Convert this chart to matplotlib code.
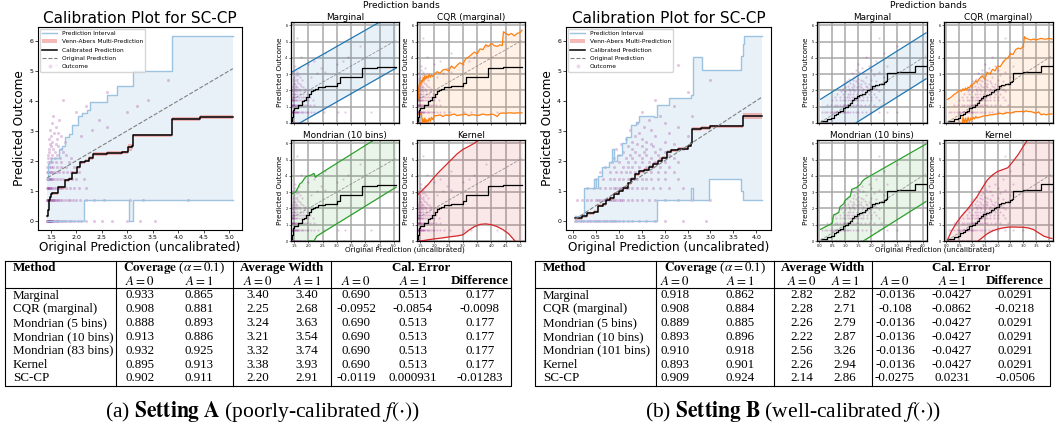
"""Calibration plots, prediction bands and summary tables for settings A and B."""

import numpy as np
import matplotlib.pyplot as plt
from matplotlib.lines import Line2D
from matplotlib.patches import Patch

W, H = 1055, 433
plt.rcParams["mathtext.fontset"] = "stix"
SERIF = "Liberation Serif"

# ---------------------------------------------------------------- setting A
# prediction interval (step, post)
pi_a_x = [1.43, 1.45, 1.47, 1.50, 1.56, 1.66, 1.72, 1.78, 1.85, 1.92, 2.03, 2.11,
          2.15, 2.21, 2.27, 2.40, 2.60, 2.79, 3.03, 3.12, 3.88, 5.07]
pi_a_hi = [1.4, 1.9, 2.0, 2.1, 2.1, 2.4, 2.5, 2.8, 2.9, 3.2, 3.5, 3.6,
           3.6, 3.7, 3.95, 3.95, 4.2, 4.5, 4.5, 5.0, 6.15, 6.15]
pi_a_lo = [0, 0, 0, 0, 0, 0, 0, 0, 0, 0, 0, 0,
           0.69, 0.69, 0.69, 0.69, 0.69, 0.69, 0, 0.69, 0.69, 0.69]
# calibrated prediction + Venn-Abers half width
cal_a_x = [1.43, 1.44, 1.46, 1.48, 1.50, 1.53, 1.65, 1.78, 1.86, 1.92, 2.02, 2.08,
           2.17, 2.25, 2.33, 2.60, 2.90, 3.02, 3.10, 3.12, 3.88, 4.42, 5.07]
cal_a = [0.15, 0.35, 0.7, 0.78, 0.9, 0.92, 1.12, 1.35, 1.4, 1.6, 1.78, 1.95,
         2.0, 2.1, 2.22, 2.25, 2.28, 2.45, 2.5, 2.85, 3.4, 3.45, 3.45]
va_a_half = [0.05, 0.05, 0.05, 0.05, 0.05, 0.05, 0.05, 0.05, 0.05, 0.05, 0.05, 0.05,
             0.05, 0.06, 0.07, 0.06, 0.05, 0.12, 0.1, 0.05, 0.06, 0.07, 0.07]
orig_a = [1.43, 5.07]

# outcomes: y level and x positions of points on it
out_levels = [0.0, 0.69, 1.10, 1.39, 1.61, 1.79, 1.95, 2.08, 2.20, 2.30, 2.40, 2.48,
              2.56, 2.64, 2.71, 2.83, 2.94, 3.04, 3.14, 3.26, 3.37, 3.50, 3.64, 3.81,
              4.04, 4.30, 4.70, 5.20]
out_a_x = [
    [1.42, 1.43, 1.44, 1.45, 1.46, 1.47, 1.48, 1.49, 1.5, 1.51, 1.53, 1.55, 1.57, 1.6,
     1.62, 1.65, 1.68, 1.72, 1.76, 1.8, 1.85, 1.9, 1.96, 2.03, 2.1, 2.2, 2.35, 2.5,
     2.7, 3.0, 3.25, 3.55],
    [1.42, 1.43, 1.44, 1.45, 1.46, 1.48, 1.5, 1.52, 1.54, 1.56, 1.59, 1.62, 1.65, 1.69,
     1.73, 1.78, 1.83, 1.88, 1.94, 2.0, 2.08, 2.2, 2.35, 2.55, 3.05, 3.3, 4.2],
    [1.42, 1.44, 1.45, 1.47, 1.49, 1.51, 1.53, 1.56, 1.6, 1.64, 1.68, 1.73, 1.8, 1.87,
     1.95, 2.05, 2.2],
    [1.42, 1.44, 1.46, 1.48, 1.5, 1.53, 1.57, 1.62, 1.68, 1.75, 1.83, 1.92, 2.0, 2.15],
    [1.43, 1.45, 1.48, 1.51, 1.55, 1.6, 1.66, 1.74, 1.82, 1.9, 2.05],
    [1.43, 1.46, 1.5, 1.55, 1.62, 1.7, 1.8, 1.95],
    [1.44, 1.48, 1.53, 1.6, 1.7, 1.85, 2.1],
    [1.45, 1.5, 1.58, 1.68, 1.9],
    [1.44, 1.52, 1.62, 1.8],
    [1.47, 1.58, 1.75],
    [1.46, 1.55, 1.7],
    [1.5, 1.65],
    [1.48, 1.6],
    [1.53, 1.78],
    [1.46, 1.62],
    [1.5, 1.7, 2.1],
    [1.56, 1.65],
    [1.48, 2.3],
    [1.6, 2.6],
    [1.52],
    [1.66, 2.45],
    [1.55],
    [2.0, 3.0],
    [2.2, 3.2],
    [1.75, 3.4],
    [2.6],
    [3.8],
    [1.6],
]

# bands for the small panels
marg_a_x = [1.43, 5.07]
marg_a_lo = [-0.27, 3.37]
marg_a_hi = [3.13, 6.77]

cqr_a_x = [1.43, 1.46, 1.49, 1.52, 1.55, 1.58, 1.61, 1.64, 1.67, 1.70,
           1.74, 1.78, 1.82, 1.86, 1.90, 1.95, 2.00, 2.10, 2.20, 2.30,
           2.40, 2.50, 2.60, 2.70, 2.80, 2.90, 3.00, 3.10, 3.20, 3.30,
           3.40, 3.50, 3.60, 3.70, 3.80, 3.90, 4.00, 4.10, 4.20, 4.30,
           4.38, 4.42, 4.50, 4.60, 4.70, 4.80, 4.90, 5.00, 5.07]
cqr_a_hi = [1.4, 2.2, 2.5, 2.3, 2.6, 2.5, 2.8, 2.6, 2.9, 2.7,
            2.9, 2.75, 3.0, 2.8, 2.95, 2.85, 3.0, 3.15, 3.05, 3.25,
            3.3, 3.2, 3.5, 3.35, 3.55, 3.7, 3.6, 3.95, 4.05, 4.2,
            4.35, 4.25, 4.55, 4.5, 4.8, 4.7, 4.9, 4.75, 4.7, 4.8,
            4.75, 5.6, 5.5, 5.4, 5.5, 5.35, 5.5, 5.55, 5.7]
cqr_a_lo = [0.5, 0.55, 0.6, 0.55, 0.6, 0.0, 0.25, 0.0, 0.3, 0.0,
            0.2, 0.05, 0.3, 0.1, 0.35, 0.2, 0.45, 0.45, 0.5, 0.4,
            0.5, 0.45, 0.5, 0.55, 0.45, 0.5, 0.5, 0.55, 0.45, 0.5,
            0.5, 0.45, 0.5, 0.55, 0.5, 0.5, 0.55, 0.5, 0.4, 0.6,
            0.6, 0.62, 0.6, 0.62, 0.62, 0.6, 0.62, 0.62, 0.62]

mond_a_x = [1.43, 1.55, 1.62, 1.70, 1.78, 1.85, 1.92, 2.00, 2.10, 2.20, 2.25, 2.30, 5.07]
mond_a_hi = [2.9, 3.0, 3.2, 3.5, 3.6, 3.8, 3.95, 4.0, 4.05, 4.15, 3.9, 4.0, 7.05]
mond_a_lo = [-0.57, -0.45, -0.38, -0.3, -0.22, -0.15, -0.08, 0.0, 0.0, 0.0, 0.15, 0.3, 3.3]

kern_a_x = [1.43, 1.6, 1.8, 2.0, 2.2, 2.4, 2.6, 2.8, 3.0, 3.2,
            3.4, 3.6, 3.8, 4.0, 4.2, 4.4, 4.6, 4.8, 5.0, 5.07]
kern_a_hi = [2.85, 3.15, 3.5, 3.93, 4.3, 4.65, 5.0, 5.35, 5.62, 5.8,
             6.0, 6.25, 6.6, 7.0, 7.4, 7.8, 8.2, 8.6, 9.0, 9.1]
kern_a_lo = [-0.05, 0.02, 0.08, 0.13, 0.17, 0.22, 0.27, 0.31, 0.38, 0.65,
             0.88, 1.02, 1.05, 1.0, 0.88, 0.7, 0.45, 0.05, -0.3, -0.4]

# ---------------------------------------------------------------- setting B
pi_b_x = [0.05, 0.25, 0.46, 0.50, 0.54, 0.64, 0.79, 0.86, 0.90, 0.97, 1.08, 1.15, 1.26,
          1.37, 1.44, 1.77, 1.83, 2.09, 2.57, 2.62, 2.82, 2.96, 3.62, 3.66, 3.70, 3.73, 4.12]
pi_b_hi = [0.15, 1.1, 1.4, 1.1, 1.5, 1.8, 1.95, 2.4, 2.0, 2.2, 2.6, 2.8, 3.2,
           3.3, 3.5, 3.45, 3.85, 4.1, 4.2, 5.45, 5.03, 5.03, 5.03, 5.5, 5.9, 6.15, 6.15]
pi_b_lo = [0, 0, 0, 0, 0, 0, 0, 0, 0, 0, 0, 0, 0,
           0, 0, 0, 0.69, 0.69, 1.1, 0.69, 0.69, 1.38, 1.38, 1.0, 0.69, 0.69, 0.69]

cal_b_x = [0.05, 0.2, 0.3, 0.45, 0.55, 0.65, 0.72, 0.8, 0.9, 1.0, 1.1, 1.2, 1.27, 1.35,
           1.45, 1.55, 1.65, 1.75, 1.85, 1.95, 2.05, 2.15, 2.3, 2.5, 2.57, 2.6, 2.8,
           3.0, 3.6, 3.7, 4.12]
cal_b = [0.1, 0.15, 0.25, 0.3, 0.5, 0.55, 0.7, 0.75, 0.9, 1.0, 1.1, 1.25, 1.4, 1.55,
         1.65, 1.7, 1.8, 1.9, 2.0, 2.1, 2.3, 2.35, 2.4, 2.5, 2.6, 3.05, 3.1,
         3.15, 3.15, 3.5, 3.5]
va_b_half = [0.06, 0.05, 0.05, 0.05, 0.05, 0.05, 0.05, 0.05, 0.05, 0.05, 0.05, 0.05, 0.05,
             0.05, 0.05, 0.05, 0.05, 0.05, 0.05, 0.05, 0.05, 0.05, 0.05, 0.05, 0.06, 0.07,
             0.06, 0.05, 0.05, 0.1, 0.1]
orig_b = [0.05, 4.12]

out_b_x = [
    [0.05, 0.1, 0.15, 0.2, 0.25, 0.3, 0.35, 0.4, 0.45, 0.5, 0.55, 0.6, 0.65, 0.7, 0.75,
     0.8, 0.85, 0.9, 0.95, 1.0, 1.1, 1.2, 1.3, 1.45, 1.6, 1.8, 2.0, 2.4, 2.9],
    [0.1, 0.2, 0.3, 0.4, 0.5, 0.55, 0.6, 0.65, 0.7, 0.75, 0.8, 0.85, 0.9, 0.95, 1.0,
     1.05, 1.1, 1.2, 1.3, 1.4, 1.5, 1.65, 1.8, 2.0, 2.3, 2.6, 3.0],
    [0.3, 0.45, 0.6, 0.7, 0.8, 0.9, 0.95, 1.0, 1.05, 1.1, 1.15, 1.2, 1.3, 1.4, 1.5,
     1.6, 1.75, 1.9, 2.1, 2.4],
    [0.5, 0.65, 0.8, 0.9, 1.0, 1.1, 1.2, 1.25, 1.3, 1.4, 1.5, 1.6, 1.7, 1.85, 2.0, 2.3],
    [0.6, 0.8, 0.95, 1.05, 1.15, 1.25, 1.35, 1.45, 1.55, 1.7, 1.85, 2.0, 2.2],
    [0.7, 0.9, 1.1, 1.2, 1.3, 1.45, 1.6, 1.75, 1.9, 2.1],
    [0.85, 1.0, 1.2, 1.35, 1.5, 1.65, 1.8, 2.0, 2.3],
    [0.9, 1.15, 1.3, 1.5, 1.7, 1.9, 2.2],
    [1.0, 1.25, 1.45, 1.6, 1.85, 2.1],
    [1.1, 1.35, 1.55, 1.8, 2.0],
    [0.95, 1.3, 1.6, 1.9, 2.4],
    [1.2, 1.5, 1.75],
    [1.05, 1.4, 1.7, 2.2],
    [1.3, 1.6, 2.0],
    [1.15, 1.5],
    [1.35, 1.8, 2.5],
    [1.45, 2.1],
    [1.25, 1.7],
    [1.55, 2.3],
    [1.4, 2.0],
    [1.65],
    [1.9, 2.6],
    [1.5],
    [2.2],
    [1.8],
    [2.5],
    [3.0],
    [2.3],
]

marg_b_x = [0.05, 4.12]
marg_b_lo = [-1.36, 2.71]
marg_b_hi = [1.46, 5.53]

cqr_b_x = [0.05, 0.1, 0.2, 0.3, 0.4, 0.5, 0.6, 0.65, 0.7, 0.75,
           0.8, 0.85, 0.9, 0.95, 1.0, 1.05, 1.1, 1.15, 1.2, 1.3,
           1.4, 1.5, 1.6, 1.7, 1.8, 1.9, 2.0, 2.1, 2.2, 2.3,
           2.4, 2.5, 2.6, 2.7, 2.8, 2.9, 3.0, 3.05, 3.1, 3.2,
           3.3, 3.4, 3.5, 3.6, 3.7, 3.8, 3.9, 4.0, 4.12]
cqr_b_hi = [1.45, 1.5, 1.6, 1.75, 1.85, 2.0, 1.95, 2.1, 2.0, 2.15,
            2.05, 2.2, 2.15, 2.3, 2.25, 2.4, 2.45, 2.6, 2.5, 2.75,
            2.9, 2.7, 3.1, 3.0, 3.3, 3.2, 3.5, 3.45, 3.7, 3.9,
            4.0, 4.25, 4.2, 4.5, 4.6, 4.55, 4.7, 5.3, 5.2, 5.15,
            5.1, 5.15, 5.1, 5.15, 5.2, 5.15, 5.15, 5.2, 5.15]
cqr_b_lo = [-0.3, -0.3, -0.3, -0.3, -0.3, -0.3, -0.3, 0.35, 0.0, 0.3,
            0.0, 0.35, 0.05, 0.3, 0.2, 0.35, 0.25, 0.4, 0.3, 0.35,
            0.4, 0.45, 0.45, 0.5, 0.5, 0.55, 0.55, 0.6, 0.55, 0.6,
            0.65, 0.6, 0.65, 0.7, 0.7, 0.7, 0.72, 0.7, 0.75, 0.7,
            0.7, 0.65, 0.6, 0.68, 0.5, 0.55, 0.5, 0.55, 0.55]

mond_b_x = [0.05, 0.45, 0.5, 0.55, 0.7, 0.75, 0.8, 0.95, 1.0, 1.15,
            1.2, 1.25, 1.45, 1.6, 1.65, 1.75, 4.12]
mond_b_hi = [0.72, 1.05, 1.1, 1.6, 1.7, 1.75, 2.1, 2.3, 2.5, 2.7,
             2.75, 3.17, 3.3, 3.5, 3.65, 3.8, 5.95]
mond_b_lo = [-1.65, -1.25, -1.2, -1.15, -1.0, -0.95, -0.9, -0.75, -0.7, -0.55,
             -0.5, -0.45, -0.25, -0.1, -0.05, 0.05, 2.42]

kern_b_x = [0.05, 0.2, 0.4, 0.6, 0.8, 1.0, 1.2, 1.4, 1.6, 1.8, 2.0,
            2.2, 2.4, 2.6, 2.8, 3.0, 3.2, 3.4, 3.6, 3.8, 4.0, 4.12]
kern_b_hi = [0.08, 0.6, 1.12, 1.55, 1.9, 2.3, 2.72, 3.25, 3.75, 4.05, 4.27,
             4.38, 4.5, 4.88, 5.3, 5.8, 6.3, 6.8, 7.3, 7.8, 8.3, 8.6]
kern_b_lo = [0.05, -0.15, -0.35, -0.45, -0.45, -0.35, -0.05, 0.2, 0.45, 0.62, 0.73,
             0.8, 0.85, 0.86, 0.85, 0.84, 0.8, 0.7, 0.5, 0.3, 0.2, 0.15]

# ---------------------------------------------------------------- tables
methods_a = ["Marginal", "CQR (marginal)", "Mondrian (5 bins)", "Mondrian (10 bins)",
             "Mondrian (83 bins)", "Kernel", "SC-CP"]
cov0_a = ["0.933", "0.908", "0.888", "0.913", "0.932", "0.895", "0.902"]
cov1_a = ["0.865", "0.881", "0.893", "0.886", "0.925", "0.913", "0.911"]
wid0_a = ["3.40", "2.25", "3.24", "3.21", "3.32", "3.38", "2.20"]
wid1_a = ["3.40", "2.68", "3.63", "3.54", "3.74", "3.93", "2.91"]
err0_a = ["0.690", "-0.0952", "0.690", "0.690", "0.690", "0.690", "-0.0119"]
err1_a = ["0.513", "-0.0854", "0.513", "0.513", "0.513", "0.513", "0.000931"]
diff_a = ["0.177", "-0.0098", "0.177", "0.177", "0.177", "0.177", "-0.01283"]

methods_b = ["Marginal", "CQR (marginal)", "Mondrian (5 bins)", "Mondrian (10 bins)",
             "Mondrian (101 bins)", "Kernel", "SC-CP"]
cov0_b = ["0.918", "0.908", "0.889", "0.893", "0.910", "0.893", "0.909"]
cov1_b = ["0.862", "0.884", "0.885", "0.896", "0.918", "0.901", "0.924"]
wid0_b = ["2.82", "2.28", "2.26", "2.22", "2.56", "2.26", "2.14"]
wid1_b = ["2.82", "2.71", "2.79", "2.87", "3.26", "2.94", "2.86"]
err0_b = ["-0.0136", "-0.108", "-0.0136", "-0.0136", "-0.0136", "-0.0136", "-0.0275"]
err1_b = ["-0.0427", "-0.0862", "-0.0427", "-0.0427", "-0.0427", "-0.0427", "0.0231"]
diff_b = ["0.0291", "-0.0218", "0.0291", "0.0291", "0.0291", "0.0291", "-0.0506"]


def px(l, t, r, b):
    return [l / W, 1 - b / H, (r - l) / W, (b - t) / H]


def outcomes(rows):
    xs, ys = [], []
    for lv, row in zip(out_levels, rows):
        xs += row
        ys += [lv] * len(row)
    return xs, ys


def calib_plot(ax, pi_x, pi_lo, pi_hi, cx, cy, half, orig, out_rows, xticks, xlim):
    cy = np.array(cy)
    half = np.array(half)
    ax.fill_between(pi_x, pi_lo, pi_hi, step="post", color="tab:blue", alpha=0.1, lw=0)
    ax.step(pi_x, pi_hi, where="post", color="#9cc3e2", lw=1)
    ax.step(pi_x, pi_lo, where="post", color="#9cc3e2", lw=1)
    ax.fill_between(cx, cy - half, cy + half, step="post", color="lightcoral", alpha=0.55, lw=0)
    ax.step(cx, cy, where="post", color="black", lw=1.1)
    ax.plot(orig, orig, ls="--", color="gray", lw=0.8)
    ox, oy = outcomes(out_rows)
    ax.scatter(ox, oy, s=5, color="purple", alpha=0.22, lw=0)
    ax.set_xlim(*xlim)
    ax.set_ylim(-0.31, 6.46)
    ax.set_xticks(xticks)
    ax.set_yticks(range(7))
    ax.tick_params(labelsize=4.5, length=2, width=0.5, pad=1.5)
    ax.set_title("Calibration Plot for SC-CP", fontsize=11, pad=3)
    ax.set_xlabel("Original Prediction (uncalibrated)", fontsize=8.7, labelpad=1)
    ax.set_ylabel("Predicted Outcome", fontsize=8.7, labelpad=2)
    handles = [
        Line2D([], [], color="#9cc3e2", lw=1),
        Patch(color="lightcoral", alpha=0.55, lw=0),
        Line2D([], [], color="black", lw=1.1),
        Line2D([], [], color="gray", ls="--", lw=0.8),
        Line2D([], [], ls="", marker="o", ms=2, color="purple", alpha=0.1),
    ]
    labels = ["Prediction Interval", "Venn-Abers Multi-Prediction", "Calibrated Prediction",
              "Original Prediction", "Outcome"]
    ax.legend(handles, labels, loc="upper left", fontsize=4.2, framealpha=0.8,
              borderpad=0.4, labelspacing=0.55, handlelength=2.6, borderaxespad=0.3)


def band_panel(ax, title, color, bx, blo, bhi, cx, cy, orig, out_rows, xticks, xlim, bottom):
    ax.fill_between(bx, blo, bhi, color=color, alpha=0.1, lw=0)
    ax.plot(bx, bhi, color=color, lw=0.9)
    ax.plot(bx, blo, color=color, lw=0.9)
    ox, oy = outcomes(out_rows)
    ax.scatter(ox, oy, s=2.5, color="purple", alpha=0.2, lw=0)
    ax.step(cx, cy, where="post", color="black", lw=0.9)
    ax.plot(orig, orig, ls="--", color="gray", lw=0.6, alpha=0.8)
    ax.set_xlim(*xlim)
    ax.set_ylim(0, 6.2)
    ax.set_xticks(xticks)
    ax.set_yticks(range(7))
    ax.grid(True, color="#a8a8a8", lw=1.1)
    ax.set_axisbelow(True)
    ax.tick_params(labelsize=2.5, length=1.5, width=0.4, pad=1)
    if not bottom:
        ax.tick_params(labelbottom=False)
    for sp in ax.spines.values():
        sp.set_linewidth(0.9)
    ax.set_title(title, fontsize=6.4, pad=1.5)
    ax.set_ylabel("Predicted Outcome", fontsize=5.2, labelpad=1.5)


def draw_table(bg, left, right, vlines, cols, methods, columns):
    top, sep, bottom = 261, 287.5, 386
    kw = dict(color="black", lw=0.8)
    bg.plot([left, right, right, left, left], [top, top, bottom, bottom, top], **kw)
    bg.plot([left, right], [sep, sep], **kw)
    for v in vlines:
        bg.plot([v, v], [top, bottom], **kw)
    txt = dict(family=SERIF, fontsize=9.4, va="center")
    y1, y2 = 268.3, 281.5
    bg.text(left + 8, y1, "Method", fontweight="bold", ha="left", **txt)
    bg.text((vlines[0] + vlines[1]) / 2, y1, r"$\mathbf{Coverage}$ ($\alpha = 0.1$)", ha="center", **txt)
    bg.text((vlines[1] + vlines[2]) / 2, y1, "Average Width", fontweight="bold", ha="center", **txt)
    bg.text((vlines[2] + right) / 2, y1, "Cal. Error", fontweight="bold", ha="center", **txt)
    for i, cxp in enumerate(cols):
        if i == 6:
            bg.text(cxp, y2, "Difference", fontweight="bold", ha="center", **txt)
        else:
            bg.text(cxp, y2, r"$A = 0$" if i % 2 == 0 else r"$A = 1$", ha="center", **txt)
    for r, m in enumerate(methods):
        y = 295.5 + 13.8 * r
        bg.text(left + 8, y, m, ha="left", **txt)
        for cxp, col in zip(cols, columns):
            bg.text(cxp, y, col[r], ha="center", **txt)


fig = plt.figure(figsize=(W / 100, H / 100), dpi=100)
bg = fig.add_axes([0, 0, 1, 1])
bg.set_xlim(0, W)
bg.set_ylim(H, 0)
bg.axis("off")

xt_a = [1.5, 2.0, 2.5, 3.0, 3.5, 4.0, 4.5, 5.0]
xt_b = [0.0, 0.5, 1.0, 1.5, 2.0, 2.5, 3.0, 3.5, 4.0]

ax = fig.add_axes(px(38, 27, 242, 230))
calib_plot(ax, pi_a_x, pi_a_lo, pi_a_hi, cal_a_x, cal_a, va_a_half, orig_a, out_a_x, xt_a, (1.25, 5.25))
ax = fig.add_axes(px(566, 27, 771, 230))
calib_plot(ax, pi_b_x, pi_b_lo, pi_b_hi, cal_b_x, cal_b, va_b_half, orig_b, out_b_x, xt_b, (-0.15, 4.32))

panels_a = [
    ((291, 22, 399, 123), "Marginal", "tab:blue", marg_a_x, marg_a_lo, marg_a_hi, False),
    ((417, 22, 525, 123), "CQR (marginal)", "tab:orange", cqr_a_x, cqr_a_lo, cqr_a_hi, False),
    ((291, 140, 399, 241), "Mondrian (10 bins)", "tab:green", mond_a_x, mond_a_lo, mond_a_hi, True),
    ((417, 140, 525, 241), "Kernel", "tab:red", kern_a_x, kern_a_lo, kern_a_hi, True),
]
for rect, title, color, bx, blo, bhi, bottom in panels_a:
    ax = fig.add_axes(px(*rect))
    band_panel(ax, title, color, bx, blo, bhi, cal_a_x, cal_a, orig_a, out_a_x,
               xt_a, (1.395, 5.175), bottom)

panels_b = [
    ((817, 22, 927, 123), "Marginal", "tab:blue", marg_b_x, marg_b_lo, marg_b_hi, False),
    ((944, 22, 1053, 123), "CQR (marginal)", "tab:orange", cqr_b_x, cqr_b_lo, cqr_b_hi, False),
    ((817, 140, 927, 241), "Mondrian (10 bins)", "tab:green", mond_b_x, mond_b_lo, mond_b_hi, True),
    ((944, 140, 1053, 241), "Kernel", "tab:red", kern_b_x, kern_b_lo, kern_b_hi, True),
]
for rect, title, color, bx, blo, bhi, bottom in panels_b:
    ax = fig.add_axes(px(*rect))
    band_panel(ax, title, color, bx, blo, bhi, cal_b_x, cal_b, orig_b, out_b_x,
               xt_b, (-0.09, 4.16), bottom)

for cx_, lab_x in [(401, 405), (928, 935)]:
    bg.text(cx_, 5, "Prediction bands", fontsize=6.6, ha="center", va="center")
    bg.text(lab_x, 250, "Original Prediction (uncalibrated)", fontsize=5.2, ha="center", va="center")

draw_table(bg, 5, 511, [116, 233, 331], [140, 199, 258, 307, 356, 413, 480], methods_a,
           [cov0_a, cov1_a, wid0_a, wid1_a, err0_a, err1_a, diff_a])
draw_table(bg, 535, 1050, [656, 774, 872], [675, 740, 802, 845, 895, 952, 1015], methods_b,
           [cov0_b, cov1_b, wid0_b, wid1_b, err0_b, err1_b, diff_b])

cap = dict(family=SERIF, fontsize=15.5, ha="center", va="center")
bg.text(263, 412, r"(a) $\mathbf{Setting\ A}$ (poorly-calibrated $f(\cdot)$)", **cap)
bg.text(793, 412, r"(b) $\mathbf{Setting\ B}$ (well-calibrated $f(\cdot)$)", **cap)

fig.savefig("out.png", dpi=100)
